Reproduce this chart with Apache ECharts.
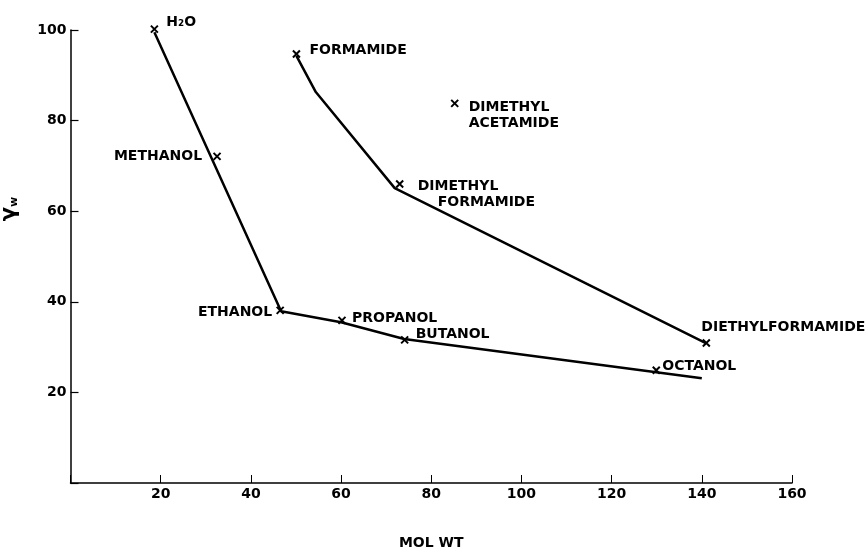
<!DOCTYPE html>
<html>
<head>
<meta charset="utf-8">
<script src="https://cdn.jsdelivr.net/npm/echarts@6/dist/echarts.min.js"></script>
<style>html,body{margin:0;padding:0;background:#fff}#c{width:866px;height:551px}</style>
</head>
<body>
<div id="c"></div>
<script>
// ---- data ----
const pointNames = ['H₂O','METHANOL','ETHANOL','PROPANOL','BUTANOL','OCTANOL','FORMAMIDE','DIMETHYL ACETAMIDE','DIMETHYL FORMAMIDE','DIETHYLFORMAMIDE'];
const pointMolWt = [18.6, 32.5, 46.5, 60.2, 74.1, 129.9, 50.1, 85.2, 73, 141];
const pointGamma = [100.2, 72.1, 38.1, 35.9, 31.6, 24.9, 94.7, 83.8, 66, 30.9];
const alcoholLineX = [18.6, 46.7, 60, 74, 140];
const alcoholLineY = [99.5, 37.9, 35.5, 31.8, 23.1];
const amideLineX = [50.1, 54.4, 71.9, 141];
const amideLineY = [94.3, 86.3, 65.1, 30.8];
const xTicks = [20, 40, 60, 80, 100, 120, 140, 160];
const yTicks = [20, 40, 60, 80, 100];

// ---- label styling (offsets relative to marker) ----
const labelStyle = {
  'H₂O': {position: 'right', offset: [1, -7]},
  'METHANOL': {position: 'left', offset: [-4, 0]},
  'ETHANOL': {position: 'left', offset: [3, 2]},
  'PROPANOL': {position: 'right', offset: [-1, -2]},
  'BUTANOL': {position: 'right', offset: [0, -5]},
  'OCTANOL': {position: 'right', offset: [-5, -4]},
  'FORMAMIDE': {position: 'right', offset: [2, -4]},
  'DIMETHYL ACETAMIDE': {position: 'right', offset: [3, 12], text: '{a|DIMETHYL}\n{a|ACETAMIDE}'},
  'DIMETHYL FORMAMIDE': {position: 'right', offset: [7, 10], text: '{a|DIMETHYL}\n{b|FORMAMIDE}'},
  'DIETHYLFORMAMIDE': {position: 'right', offset: [-16, -16]}
};

const FONT = '"DejaVu Sans", sans-serif';
const lbl = {fontFamily: FONT, fontWeight: 'bold', fontSize: 14, color: '#000'};

const scatterData = pointNames.map((n, i) => {
  const s = labelStyle[n];
  return {
    value: [pointMolWt[i], pointGamma[i]],
    name: n,
    label: {
      show: true,
      position: s.position,
      offset: s.offset,
      formatter: s.text || n,
      ...lbl,
      opacity: 1,
      lineHeight: 16,
      rich: {
        a: {...lbl, lineHeight: 16},
        b: {...lbl, lineHeight: 16, padding: [0, 0, 0, 20]}
      }
    }
  };
});

const chart = echarts.init(document.getElementById('c'), null, {renderer: 'canvas'});
chart.setOption({
  animation: false,
  backgroundColor: '#fff',
  grid: {left: 70.5, right: 74, top: 30, bottom: 68, containLabel: false, outerBoundsMode: 'none'},
  xAxis: {
    type: 'value', min: 0, max: 160, interval: 20,
    name: 'MOL WT', nameLocation: 'middle', nameGap: 53,
    nameTextStyle: {fontFamily: FONT, fontWeight: 'bold', fontSize: 14, color: '#000'},
    axisLine: {show: true, onZero: false, lineStyle: {color: '#000', width: 1.5}},
    axisTick: {show: true, inside: true, length: 8, lineStyle: {color: '#000', width: 1}},
    axisLabel: {
      margin: 4, fontFamily: FONT, fontWeight: 'bold', fontSize: 14, color: '#000',
      formatter: v => xTicks.includes(v) ? String(v) : ''
    },
    splitLine: {show: false}
  },
  yAxis: {
    type: 'value', min: 0, max: 100, interval: 20,
    name: '{g|γ}{s|w}', nameLocation: 'middle', nameGap: 50,
    nameTextStyle: {
      padding: [0, 0, 0, 95],
      rich: {
        g: {fontFamily: FONT, fontSize: 21, color: '#000', fontWeight: 'bold', verticalAlign: 'middle'},
        s: {fontFamily: FONT, fontSize: 11, color: '#000', fontWeight: 'bold', padding: [8, 0, 0, 0]}
      }
    },
    axisLine: {show: true, onZero: false, lineStyle: {color: '#000', width: 1.5}},
    axisTick: {show: true, inside: true, length: 8, lineStyle: {color: '#000', width: 1.2}},
    axisLabel: {
      margin: 4, fontFamily: FONT, fontWeight: 'bold', fontSize: 14, color: '#000',
      formatter: v => yTicks.includes(v) ? String(v) : ''
    },
    splitLine: {show: false}
  },
  series: [
    {
      type: 'line', data: alcoholLineX.map((x, i) => [x, alcoholLineY[i]]),
      symbol: 'none', lineStyle: {color: '#000', width: 2.5}, z: 2
    },
    {
      type: 'line', data: amideLineX.map((x, i) => [x, amideLineY[i]]),
      symbol: 'none', lineStyle: {color: '#000', width: 2.5}, z: 2
    },
    {
      type: 'scatter', data: scatterData, clip: false,
      symbol: 'path://M0,0L10,10M10,0L0,10', symbolSize: 7,
      itemStyle: {color: 'none', borderColor: '#000', borderWidth: 2, opacity: 1},
      z: 3
    }
  ]
});
</script>
</body>
</html>
